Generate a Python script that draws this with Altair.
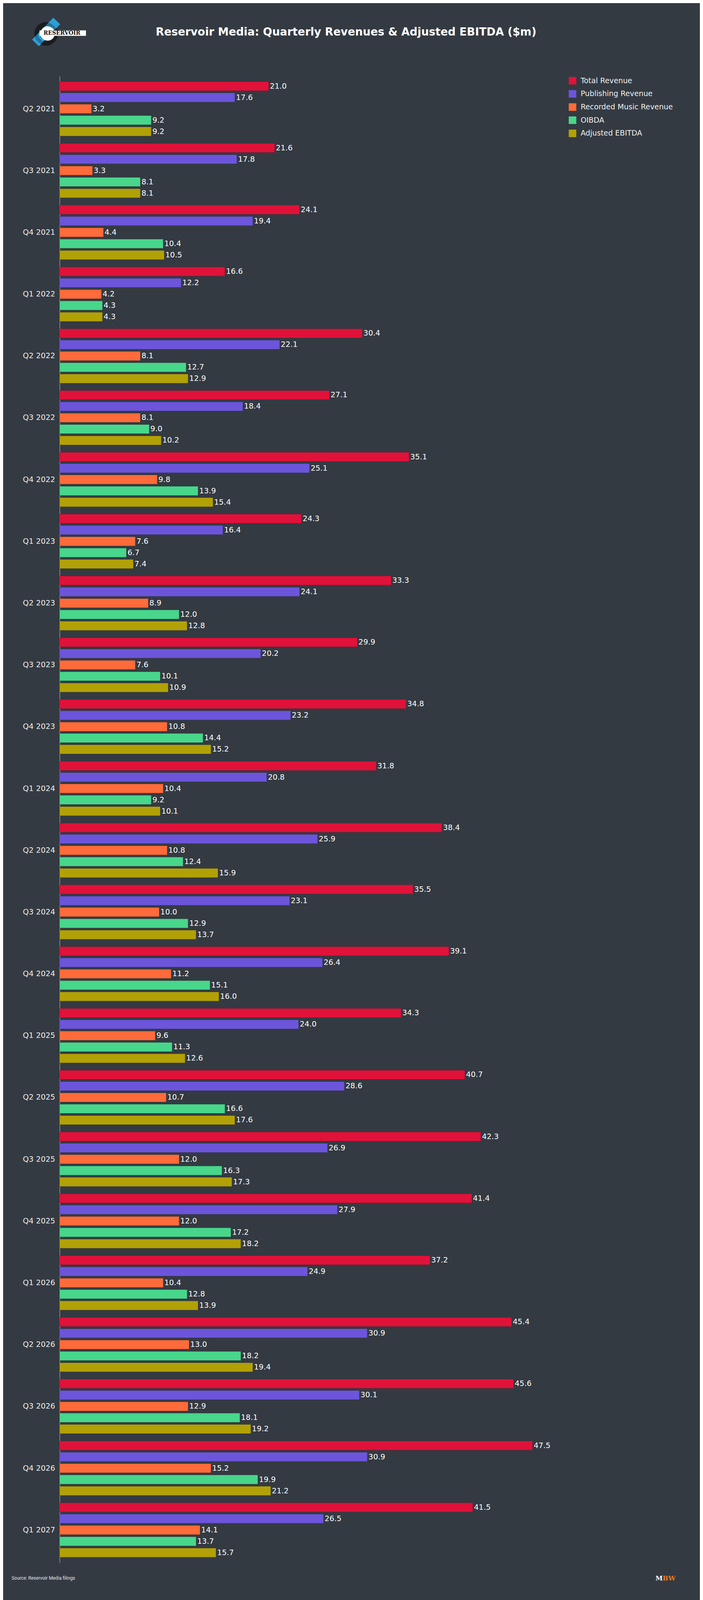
import altair as alt
import pandas as pd

quarters = ["Q2 2021", "Q3 2021", "Q4 2021", "Q1 2022", "Q2 2022", "Q3 2022", "Q4 2022",
            "Q1 2023", "Q2 2023", "Q3 2023", "Q4 2023", "Q1 2024", "Q2 2024", "Q3 2024",
            "Q4 2024", "Q1 2025", "Q2 2025", "Q3 2025", "Q4 2025", "Q1 2026", "Q2 2026",
            "Q3 2026", "Q4 2026", "Q1 2027"]
total_revenue = [21.0, 21.6, 24.1, 16.6, 30.4, 27.1, 35.1, 24.3, 33.3, 29.9, 34.8, 31.8,
                 38.4, 35.5, 39.1, 34.3, 40.7, 42.3, 41.4, 37.2, 45.4, 45.6, 47.5, 41.5]
publishing_revenue = [17.6, 17.8, 19.4, 12.2, 22.1, 18.4, 25.1, 16.4, 24.1, 20.2, 23.2, 20.8,
                      25.9, 23.1, 26.4, 24.0, 28.6, 26.9, 27.9, 24.9, 30.9, 30.1, 30.9, 26.5]
recorded_music_revenue = [3.2, 3.3, 4.4, 4.2, 8.1, 8.1, 9.8, 7.6, 8.9, 7.6, 10.8, 10.4,
                          10.8, 10.0, 11.2, 9.6, 10.7, 12.0, 12.0, 10.4, 13.0, 12.9, 15.2, 14.1]
oibda = [9.2, 8.1, 10.4, 4.3, 12.7, 9.0, 13.9, 6.7, 12.0, 10.1, 14.4, 9.2,
         12.4, 12.9, 15.1, 11.3, 16.6, 16.3, 17.2, 12.8, 18.2, 18.1, 19.9, 13.7]
adjusted_ebitda = [9.2, 8.1, 10.5, 4.3, 12.9, 10.2, 15.4, 7.4, 12.8, 10.9, 15.2, 10.1,
                   15.9, 13.7, 16.0, 12.6, 17.6, 17.3, 18.2, 13.9, 19.4, 19.2, 21.2, 15.7]

series = ["Total Revenue", "Publishing Revenue", "Recorded Music Revenue", "OIBDA", "Adjusted EBITDA"]
colors = ["#e0123a", "#6c55da", "#ff6b3a", "#48d68b", "#b2a106"]

title_text = "Reservoir Media: Quarterly Revenues & Adjusted EBITDA ($m)"
source_text = "Source: Reservoir Media filings"

series_values = [total_revenue, publishing_revenue, recorded_music_revenue, oibda, adjusted_ebitda]
rows = []
for qi, q in enumerate(quarters):
    for s, vals in zip(series, series_values):
        rows.append({"Quarter": q, "Series": s, "Value": vals[qi]})
df = pd.DataFrame(rows)

FONT = "DejaVu Sans"

base = alt.Chart(df).encode(
    y=alt.Y("Quarter:N", sort=quarters,
            scale=alt.Scale(paddingInner=0.12, paddingOuter=0.09),
            axis=alt.Axis(title=None, ticks=False, domainColor="#c8c8c8", domainWidth=1,
                          labelColor="#eeeeee", labelFont=FONT, labelFontSize=19.5,
                          labelPadding=12)),
    yOffset=alt.YOffset("Series:N", sort=series,
                        scale=alt.Scale(paddingInner=0.2, paddingOuter=0)),
    x=alt.X("Value:Q", scale=alt.Scale(domain=[0, 50]), axis=None),
)

bars = base.mark_bar(stroke="#000000", strokeOpacity=0.18, strokeWidth=1).encode(
    color=alt.Color("Series:N", sort=series,
                    scale=alt.Scale(domain=series, range=colors),
                    legend=alt.Legend(title=None, orient="none", legendX=1315, legendY=2,
                                      symbolType="square", symbolSize=380,
                                      symbolStrokeWidth=0, labelFont=FONT,
                                      labelFontSize=19, labelColor="#f0f0f0",
                                      labelLimit=0, rowPadding=14, labelOffset=11,
                                      padding=0))
)

labels = base.mark_text(align="left", baseline="middle", dx=3, font=FONT,
                        fontSize=19.5, color="#ffffff").encode(
    text=alt.Text("Value:Q", format=".1f")
)

one = pd.DataFrame({"t": [""]})

record = alt.Chart(one).mark_point(shape="circle", filled=True, size=3721,
                                   color="#1b1d20", opacity=1).encode(
    x=alt.value(-35), y=alt.value(-109))
band = alt.Chart(one).mark_point(shape="M-0.31,-1L0.31,-1L0.31,1L-0.31,1Z", filled=True,
                                 size=6241, angle=44, color="#2a9fd8", opacity=1).encode(
    x=alt.value(-35), y=alt.value(-114))
grooves = [
    alt.Chart(one).mark_point(shape="circle", filled=False, size=d * d, color="#1b1d20",
                              strokeWidth=1.2, opacity=0.8).encode(
        x=alt.value(-35), y=alt.value(-109))
    for d in [56, 50, 44]
]
white_circle = alt.Chart(one).mark_point(shape="circle", filled=True, size=1369,
                                         color="#ffffff", opacity=1).encode(
    x=alt.value(-31), y=alt.value(-110))
white_rect = alt.Chart(one).mark_rect(color="#ffffff").encode(
    x=alt.value(-52), x2=alt.value(68), y=alt.value(-118), y2=alt.value(-104))
logo_text = alt.Chart(pd.DataFrame({"t": ["RESERVOIR"]})).mark_text(
    font="DejaVu Serif", fontSize=14, fontWeight="bold", color="#111111",
    align="center", baseline="middle").encode(
    text="t:N", x=alt.value(6), y=alt.value(-111))

title = alt.Chart(pd.DataFrame({"t": [title_text]})).mark_text(
    font=FONT, fontSize=28, fontWeight="bold", color="#ffffff",
    align="center", baseline="middle").encode(
    text="t:N", x=alt.value(740), y=alt.value(-113))

source = alt.Chart(pd.DataFrame({"t": [source_text]})).mark_text(
    font="Roboto", fontSize=12, color="#e6e6e6", align="left", baseline="middle").encode(
    text="t:N", x=alt.value(-124), y=alt.value(3880))

mbw_m = alt.Chart(pd.DataFrame({"t": ["M"]})).mark_text(
    font="DejaVu Serif", fontSize=17, fontWeight="bold", color="#ffffff",
    align="right", baseline="middle").encode(
    text="t:N", x=alt.value(1558), y=alt.value(3881))
mbw_bw = alt.Chart(pd.DataFrame({"t": ["BW"]})).mark_text(
    font="DejaVu Serif", fontSize=17, fontWeight="bold", color="#f07a1e",
    align="left", baseline="middle").encode(
    text="t:N", x=alt.value(1558), y=alt.value(3881))

chart = alt.layer(
    bars, labels, record, band, *grooves, white_circle, white_rect, logo_text,
    title, source, mbw_m, mbw_bw
).properties(
    width=1286, height=3840, background="#343a42",
    padding={"left": 146, "top": 170, "right": 368, "bottom": 100},
    autosize=alt.AutoSizeParams(type="none"),
).configure_view(stroke=None)

chart.save("out.html", embed_options={"renderer": "svg", "actions": False})
